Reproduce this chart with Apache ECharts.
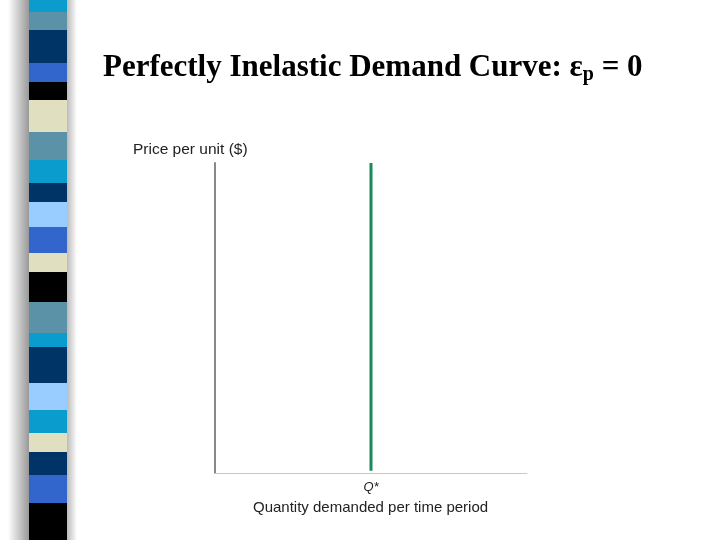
<!DOCTYPE html><html><head><meta charset="utf-8"><script src="https://cdn.jsdelivr.net/npm/echarts@6/dist/echarts.min.js"></script>
<style>html,body{margin:0;padding:0;background:#fff}#c{width:720px;height:540px}</style></head><body><div id="c"></div><script>
const xTickLabels = {5: 'Q*'};
const demandQ = [5, 5];
const demandP = [0.07, 10];
const stripeBounds = [0,12,30,63,82,100,132,160,183,202,227,253,272,302,333,347,383,410,433,452,475,503,540];
const stripeColors = ['#0a9ccc','#5b92a8','#003366','#3366cc','#000000','#e0e0c0','#5b92a8','#0a9ccc','#003366','#99ccff','#3366cc','#e0e0c0','#000000','#5b92a8','#0a9ccc','#003366','#99ccff','#0a9ccc','#e0e0c0','#003366','#3366cc','#000000'];
const graphics = [{type:'rect',shape:{x:8,y:0,width:24,height:540},style:{fill:new echarts.graphic.LinearGradient(0,0,1,0,[{offset:0,color:'#ffffff'},{offset:1,color:'#8a8a8a'}])}},
{type:'rect',shape:{x:67,y:0,width:10,height:540},style:{fill:new echarts.graphic.LinearGradient(0,0,1,0,[{offset:0,color:'#bbbbbb'},{offset:1,color:'#ffffff'}])}}];
for(let i=0;i<stripeColors.length;i++){graphics.push({type:'rect',shape:{x:29,y:stripeBounds[i],width:38,height:stripeBounds[i+1]-stripeBounds[i]},style:{fill:stripeColors[i]}});}
graphics.push({type:'text',left:133,top:142,style:{text:'Price per unit ($)',font:'15.5px "Liberation Sans", Arial',fill:'#222'}});
graphics.push({type:'text',left:253,top:500,style:{text:'Quantity demanded per time period',font:'15px "Liberation Sans", Arial',fill:'#222'}});
const chart = echarts.init(document.getElementById('c'));
chart.setOption({
 animation:false,
 title:{text:'Perfectly Inelastic Demand Curve: ε{s|p} = 0',left:98,top:46,textStyle:{fontFamily:'"Liberation Serif","Times New Roman",serif',fontWeight:'bold',fontSize:31,color:'#000',rich:{s:{fontFamily:'"Liberation Serif",serif',fontWeight:'bold',fontSize:20,verticalAlign:'bottom',padding:[14,0,0,0]}}}},
 graphic:graphics,
 grid:{left:215,right:193,top:163,bottom:67},
 xAxis:{type:'value',min:0,max:10,interval:5,axisLine:{lineStyle:{color:'#c8c8c8',width:1}},axisTick:{show:false},splitLine:{show:false},
  axisLabel:{formatter:v=>xTickLabels[v]||'',fontStyle:'italic',fontSize:13,color:'#222',fontFamily:'"Liberation Sans", Arial',margin:8}},
 yAxis:{type:'value',min:0,max:10,axisLine:{show:true,lineStyle:{color:'#888',width:2}},axisTick:{show:false},axisLabel:{show:false},splitLine:{show:false}},
 series:[{type:'line',data:demandQ.map((q,i)=>[q,demandP[i]]),symbol:'none',lineStyle:{color:'#1a8a5a',width:3}}]
});
</script></body></html>
